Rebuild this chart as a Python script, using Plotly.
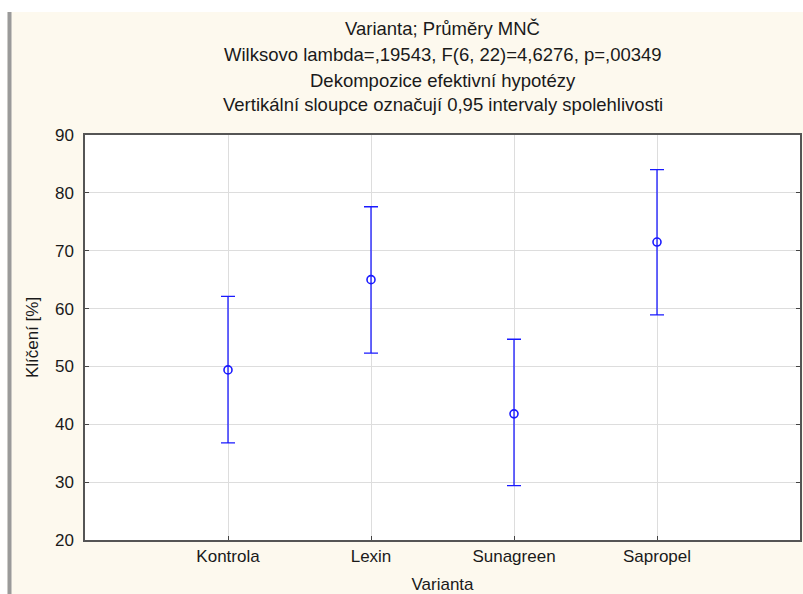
import plotly.graph_objects as go

categories = ["Kontrola", "Lexin", "Sunagreen", "Sapropel"]
means = [49.4, 65.0, 41.8, 71.5]
ci_upper = [62.1, 77.6, 54.7, 84.0]
ci_lower = [36.8, 52.3, 29.4, 58.9]
y_ticks = [20, 30, 40, 50, 60, 70, 80, 90]
title_lines = [
    "Varianta; Průměry MNČ",
    "Wilksovo lambda=,19543, F(6, 22)=4,6276, p=,00349",
    "Dekompozice efektivní hypotézy",
    "Vertikální sloupce označují 0,95 intervaly spolehlivosti",
]

FONT = "Liberation Sans, Arial, sans-serif"
BLUE = "#1a1aff"
CREAM = "#fdf9ee"
TXT = "#1a1a1a"

x_idx = list(range(len(categories)))
err_plus = [u - m for u, m in zip(ci_upper, means)]
err_minus = [m - l for m, l in zip(means, ci_lower)]

fig = go.Figure()
fig.add_trace(go.Scatter(
    x=x_idx, y=means, mode="markers",
    marker=dict(symbol="circle-open", size=8, color=BLUE, line=dict(width=1.6, color=BLUE)),
    error_y=dict(type="data", symmetric=False, array=err_plus, arrayminus=err_minus,
                 color=BLUE, thickness=1.3, width=7),
    showlegend=False, hoverinfo="skip",
))

L, R, T, B = 85, 3, 135, 54
W, H = 803, 594
pw, ph = W - L - R, H - T - B

def px2x(px):
    return (px - L) / pw

def py2y(py):
    return (H - B - py) / ph

shapes = [
    dict(type="rect", xref="paper", yref="paper", x0=px2x(-5), x1=px2x(W + 5),
         y0=py2y(12), y1=py2y(-5), fillcolor="white", line_width=0, layer="below"),
    dict(type="rect", xref="paper", yref="paper", x0=px2x(-5), x1=px2x(7.5),
         y0=py2y(H + 5), y1=py2y(-5), fillcolor="white", line_width=0, layer="below"),
    dict(type="rect", xref="paper", yref="paper", x0=px2x(7.5), x1=px2x(11.5),
         y0=py2y(H + 5), y1=py2y(12), fillcolor="#9a9a9a", line_width=0, layer="below"),
]

annotations = []
title_y = [28, 54, 80, 105]
for txt, yy in zip(title_lines, title_y):
    annotations.append(dict(text=txt, xref="paper", yref="paper", x=0.5, y=py2y(yy),
                            xanchor="center", yanchor="middle", showarrow=False,
                            font=dict(family=FONT, size=18.5, color=TXT)))

fig.update_layout(
    width=W, height=H,
    margin=dict(l=L, r=R, t=T, b=B, autoexpand=False),
    paper_bgcolor=CREAM, plot_bgcolor="white",
    font=dict(family=FONT, size=17, color=TXT),
    shapes=shapes, annotations=annotations,
    xaxis=dict(range=[-1, 4], tickvals=x_idx, ticktext=categories,
               showgrid=True, gridcolor="#dddddd", gridwidth=1,
               showline=True, linecolor="#555", linewidth=1.5, mirror=True,
               ticks="inside", ticklen=4, tickcolor="#444", zeroline=False,
               tickfont=dict(family=FONT, size=17, color=TXT),
               title=dict(text="Varianta", font=dict(family=FONT, size=17, color=TXT), standoff=13)),
    yaxis=dict(range=[20, 90], tickvals=y_ticks,
               showgrid=True, gridcolor="#dddddd", gridwidth=1,
               showline=True, linecolor="#555", linewidth=1.5, mirror="ticks",
               ticks="inside", ticklen=4, tickcolor="#444", zeroline=False,
               ticklabelstandoff=6,
               tickfont=dict(family=FONT, size=17, color=TXT),
               title=dict(text="Klíčení [%]", font=dict(family=FONT, size=17, color=TXT), standoff=12)),
)

fig.write_html("out.html", config={"displayModeBar": False},
               post_script="document.body.style.margin='0';document.body.style.padding='0';")
